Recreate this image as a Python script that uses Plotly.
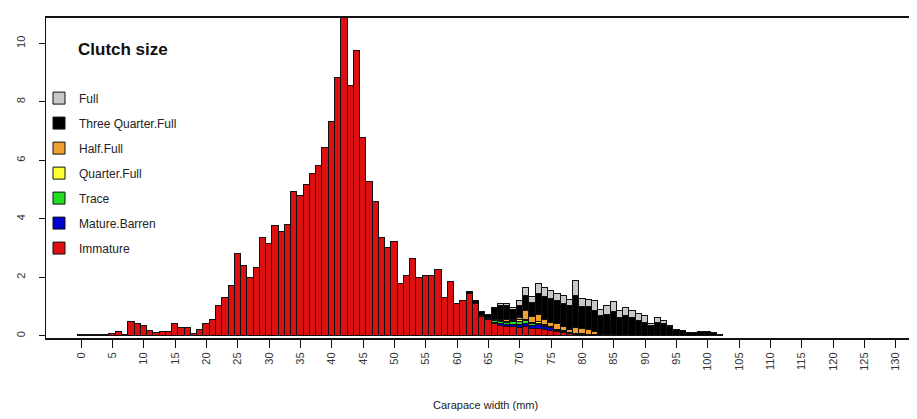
import plotly.graph_objects as go

# ---- data (percent of crabs per 1 mm carapace-width class) ----
immature_x = list(range(0, 82))
immature = [0.02, 0.02, 0.02, 0.03, 0.03, 0.08, 0.14, 0.03, 0.49, 0.42,
            0.34, 0.17, 0.11, 0.14, 0.14, 0.42, 0.26, 0.27, 0.08, 0.22,
            0.41, 0.56, 1.04, 1.30, 1.72, 2.80, 2.40, 1.98, 2.32, 3.35,
            3.15, 3.75, 3.54, 3.80, 4.92, 4.77, 5.17, 5.54, 5.80, 6.43,
            7.31, 8.82, 11.2, 8.53, 9.73, 6.77, 5.26, 4.58, 3.35, 3.00,
            3.21, 1.78, 2.04, 2.64, 1.98, 2.04, 2.04, 2.25, 1.30, 1.84,
            1.09, 1.18, 1.45, 1.10, 0.65, 0.55, 0.40, 0.35, 0.30, 0.30,
            0.28, 0.30, 0.25, 0.25, 0.22, 0.18, 0.12, 0.10, 0.05, 0.03,
            0.02, 0.01]

mature_x = list(range(62, 103))
mature_barren = [0, 0, 0, 0.03, 0.05, 0.05, 0.07, 0.08, 0.08, 0.10,
                 0.10, 0.12, 0.10, 0.08, 0.05, 0.05, 0.04, 0.04, 0.05, 0.03,
                 0.02, 0.01, 0.01, 0, 0, 0, 0, 0, 0, 0,
                 0, 0, 0, 0, 0, 0, 0, 0, 0, 0, 0]
trace = [0, 0, 0.03, 0.03, 0.05, 0.07, 0.08, 0.10, 0.12, 0.10,
         0.05, 0.05, 0.03, 0.02, 0.02, 0.01, 0, 0, 0, 0,
         0, 0, 0, 0, 0, 0, 0, 0, 0, 0,
         0, 0, 0, 0, 0, 0, 0, 0, 0, 0, 0]
quarter_full = [0, 0, 0, 0, 0.02, 0.03, 0.03, 0.03, 0.05, 0.05,
                0.04, 0.05, 0.04, 0.03, 0.02, 0.02, 0.02, 0.01, 0, 0,
                0, 0, 0, 0, 0, 0, 0, 0, 0, 0,
                0, 0, 0, 0, 0, 0, 0, 0, 0, 0, 0]
half_full = [0, 0, 0, 0, 0.02, 0.03, 0.05, 0.05, 0.10, 0.30,
             0.20, 0.25, 0.15, 0.15, 0.20, 0.12, 0.10, 0.20, 0.18, 0.15,
             0.10, 0.03, 0.02, 0.02, 0.01, 0.02, 0.01, 0.01, 0, 0,
             0, 0, 0, 0, 0, 0, 0, 0, 0, 0, 0]
three_quarter_full = [0.05, 0.08, 0.14, 0.12, 0.42, 0.50, 0.50, 0.32, 0.40, 0.50,
                      0.48, 0.70, 0.80, 0.80, 0.80, 0.80, 0.80, 1.10, 0.75, 0.80,
                      0.75, 0.65, 0.70, 0.80, 0.60, 0.65, 0.60, 0.50, 0.45, 0.35,
                      0.45, 0.40, 0.30, 0.22, 0.18, 0.10, 0.10, 0.14, 0.14, 0.10, 0.02]
full = [0, 0, 0, 0, 0, 0.06, 0.06, 0.08, 0.15, 0.29,
        0.20, 0.36, 0.30, 0.29, 0.23, 0.26, 0.23, 0.49, 0.28, 0.25,
        0.31, 0.21, 0.28, 0.34, 0.23, 0.29, 0.26, 0.24, 0.22, 0.06,
        0.17, 0.12, 0.03, 0, 0, 0, 0, 0, 0, 0, 0]

x_ticks = list(range(0, 131, 5))
y_ticks = [0, 2, 4, 6, 8, 10]

series = [
    ("Immature", immature_x, immature, "#dc1010"),
    ("Mature.Barren", mature_x, mature_barren, "#0000cc"),
    ("Trace", mature_x, trace, "#22dd22"),
    ("Quarter.Full", mature_x, quarter_full, "#ffff30"),
    ("Half.Full", mature_x, half_full, "#eea030"),
    ("Three Quarter.Full", mature_x, three_quarter_full, "#000000"),
    ("Full", mature_x, full, "#c8c8c8"),
]

FONT = "Liberation Sans Narrow, Arial Narrow, Liberation Sans, Arial, sans-serif"

fig = go.Figure()
for i, (name, xs, ys, col) in enumerate(series):
    fig.add_trace(go.Bar(
        x=xs, y=ys, name=name, width=1,
        marker=dict(color=col, line=dict(color="#111111", width=1)),
        legendgroup=f"g{i}", legendrank=1000 - i,
    ))

PW, PH, L, T = 879, 320, 38, 10

fig.update_layout(
    width=917, height=419,
    margin=dict(l=L, r=0, t=T, b=89),
    paper_bgcolor="white", plot_bgcolor="white",
    barmode="stack", bargap=0,
    font=dict(family=FONT, size=11, color="#222222"),
    showlegend=True,
    legend=dict(
        x=-7 / PW, xanchor="left", y=0.795, yanchor="top",
        traceorder="grouped", tracegroupgap=6,
        font=dict(family=FONT, size=12, color="#222222"),
        bgcolor="rgba(0,0,0,0)", borderwidth=0,
    ),
    annotations=[
        dict(text="<b>Clutch size</b>", x=(68 - L) / PW, y=1 - (41 - T) / PH,
             xref="paper", yref="paper",
             showarrow=False, font=dict(family=FONT, size=17, color="#111111"),
             xanchor="left", yanchor="middle"),
        dict(text="Carapace width (mm)", x=0.5, y=-0.21, xref="paper", yref="paper",
             showarrow=False, font=dict(family=FONT, size=11, color="#222222"),
             xanchor="center", yanchor="middle"),
    ],
)

fig.update_xaxes(
    range=[-5.63, 134.67], tickmode="array", tickvals=x_ticks,
    ticktext=[str(v) for v in x_ticks], tickangle=-90,
    ticks="outside", ticklen=8, tickcolor="#111111", tickwidth=1,
    showline=True, linecolor="#111111", linewidth=2, mirror=True,
    showgrid=False, zeroline=False,
    tickfont=dict(family=FONT, size=11, color="#333333"),
)
fig.update_yaxes(
    range=[-0.07, 10.87], tickmode="array", tickvals=y_ticks,
    ticktext=[str(v) for v in y_ticks], tickangle=-90,
    ticks="outside", ticklen=6, tickcolor="#111111", tickwidth=1,
    ticklabelstandoff=10,
    showline=True, linecolor="#111111", linewidth=1,
    showgrid=False, zeroline=False,
    tickfont=dict(family=FONT, size=11, color="#333333"),
)

fig.write_html("out.html")
